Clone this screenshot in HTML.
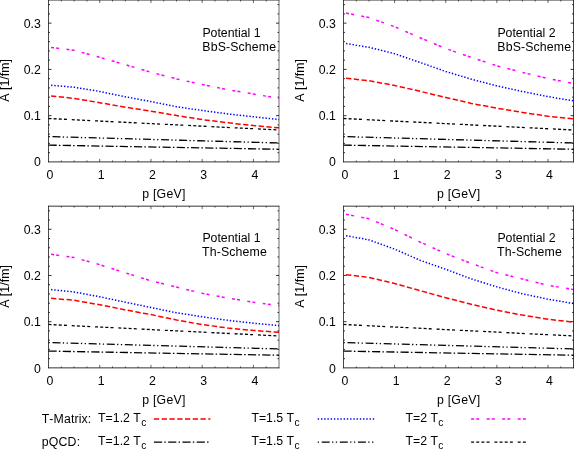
<!DOCTYPE html>
<html><head><meta charset="utf-8"><title>Chart</title>
<style>html,body{margin:0;padding:0;background:#fff;}body{width:574px;height:449px;overflow:hidden;font-family:"Liberation Sans",sans-serif;}</style>
</head><body>
<svg width="574" height="449" viewBox="0 0 574 449" style="display:block;will-change:transform">
<rect width="574" height="449" fill="#fff"/>
<g font-family="Liberation Sans, sans-serif" font-size="12.3" fill="#000" style="font-kerning:none">
<polyline points="51.06,47.40 74.11,50.30 99.72,57.30 125.33,64.70 150.94,72.20 176.56,78.90 202.17,84.50 227.78,89.70 253.39,94.00 279.00,98.30" fill="none" stroke="#ff00ff" stroke-width="1.5" stroke-dasharray="3.0 2.15 3.0 7.4" stroke-linejoin="round"/>
<polyline points="51.06,85.30 74.11,87.20 99.72,91.50 125.33,96.80 150.94,101.60 176.56,106.70 202.17,110.50 227.78,113.90 253.39,116.80 279.00,119.50" fill="none" stroke="#0000ff" stroke-width="1.5" stroke-dasharray="1.4 1.84" stroke-linejoin="round"/>
<polyline points="51.06,96.00 74.11,98.40 99.72,102.70 125.33,107.20 150.94,111.20 176.56,115.50 202.17,119.60 227.78,122.80 253.39,125.60 279.00,127.80" fill="none" stroke="#ff0000" stroke-width="1.5" stroke-dasharray="5.3 2.47" stroke-linejoin="round"/>
<polyline points="48.50,118.50 279.00,130.00" fill="none" stroke="#000" stroke-width="1.3" stroke-dasharray="3.0 2.15 3.0 2.15 3.0 2.15 3.0 4.85" stroke-linejoin="round"/>
<polyline points="48.50,136.60 279.00,143.00" fill="none" stroke="#000" stroke-width="1.3" stroke-dasharray="1.3 2.7 8.0 2.3 1.3 2.5" stroke-linejoin="round"/>
<polyline points="48.50,145.10 279.00,149.30" fill="none" stroke="#000" stroke-width="1.3" stroke-dasharray="8.2 2.2 1.5 2.35" stroke-linejoin="round"/>
<path d="M48.5 -0.37V162.30" stroke="#000" stroke-width="0.72" fill="none"/>
<path d="M279.0 -0.37V162.30" stroke="#000" stroke-width="0.58" fill="none"/>
<path d="M61.31 161.9v-1.5M61.31 0.03v1.5M74.11 161.9v-1.5M74.11 0.03v1.5M86.92 161.9v-1.5M86.92 0.03v1.5M99.72 161.9v-3.0M99.72 0.03v3.0M112.53 161.9v-1.5M112.53 0.03v1.5M125.33 161.9v-1.5M125.33 0.03v1.5M138.14 161.9v-1.5M138.14 0.03v1.5M150.94 161.9v-3.0M150.94 0.03v3.0M163.75 161.9v-1.5M163.75 0.03v1.5M176.56 161.9v-1.5M176.56 0.03v1.5M189.36 161.9v-1.5M189.36 0.03v1.5M202.17 161.9v-3.0M202.17 0.03v3.0M214.97 161.9v-1.5M214.97 0.03v1.5M227.78 161.9v-1.5M227.78 0.03v1.5M240.58 161.9v-1.5M240.58 0.03v1.5M253.39 161.9v-3.0M253.39 0.03v3.0M266.19 161.9v-1.5M266.19 0.03v1.5" stroke="#000" stroke-width="0.6" fill="none"/>
<path d="M48.20 0.03H279.30M48.20 161.9H279.30M48.5 152.65h1.5M279.0 152.65h-1.5M48.5 143.40h1.5M279.0 143.40h-1.5M48.5 134.15h1.5M279.0 134.15h-1.5M48.5 124.90h1.5M279.0 124.90h-1.5M48.5 115.65h3.0M279.0 115.65h-3.0M48.5 106.40h1.5M279.0 106.40h-1.5M48.5 97.15h1.5M279.0 97.15h-1.5M48.5 87.90h1.5M279.0 87.90h-1.5M48.5 78.65h1.5M279.0 78.65h-1.5M48.5 69.40h3.0M279.0 69.40h-3.0M48.5 60.15h1.5M279.0 60.15h-1.5M48.5 50.90h1.5M279.0 50.90h-1.5M48.5 41.65h1.5M279.0 41.65h-1.5M48.5 32.40h1.5M279.0 32.40h-1.5M48.5 23.15h3.0M279.0 23.15h-3.0M48.5 13.90h1.5M279.0 13.90h-1.5M48.5 4.65h1.5M279.0 4.65h-1.5" stroke="#000" stroke-width="0.8" fill="none"/>
<text x="40.90" y="166.30" text-anchor="end">0</text>
<text x="40.90" y="120.05" text-anchor="end">0.1</text>
<text x="40.90" y="73.80" text-anchor="end">0.2</text>
<text x="40.90" y="27.55" text-anchor="end">0.3</text>
<text x="50.00" y="178.60" text-anchor="middle">0</text>
<text x="101.22" y="178.60" text-anchor="middle">1</text>
<text x="152.44" y="178.60" text-anchor="middle">2</text>
<text x="203.67" y="178.60" text-anchor="middle">3</text>
<text x="254.89" y="178.60" text-anchor="middle">4</text>
<text x="163.75" y="198.10" text-anchor="middle" textLength="43.1">p [GeV]</text>
<text transform="translate(9.10,80.42) rotate(-90)" text-anchor="middle" textLength="42.8">A [1/fm]</text>
<text x="202.40" y="36.60">Potential 1</text>
<text x="202.30" y="50.60" textLength="73.78">BbS-Scheme</text>
<polyline points="346.06,13.10 369.06,17.60 394.62,26.70 420.18,37.80 445.74,48.50 471.31,57.50 496.87,65.80 522.43,72.40 547.99,78.50 573.55,83.50" fill="none" stroke="#ff00ff" stroke-width="1.5" stroke-dasharray="3.0 2.15 3.0 7.4" stroke-linejoin="round"/>
<polyline points="346.06,43.60 369.06,47.30 394.62,53.70 420.18,62.50 445.74,71.50 471.31,79.20 496.87,85.90 522.43,91.50 547.99,96.60 573.55,100.90" fill="none" stroke="#0000ff" stroke-width="1.5" stroke-dasharray="1.4 1.84" stroke-linejoin="round"/>
<polyline points="346.06,78.30 369.06,80.70 394.62,85.50 420.18,91.30 445.74,97.50 471.31,103.40 496.87,108.20 522.43,112.40 547.99,116.20 573.55,118.90" fill="none" stroke="#ff0000" stroke-width="1.5" stroke-dasharray="5.3 2.47" stroke-linejoin="round"/>
<polyline points="343.50,118.50 573.55,130.00" fill="none" stroke="#000" stroke-width="1.3" stroke-dasharray="3.0 2.15 3.0 2.15 3.0 2.15 3.0 4.85" stroke-linejoin="round"/>
<polyline points="343.50,136.60 573.55,143.00" fill="none" stroke="#000" stroke-width="1.3" stroke-dasharray="1.3 2.7 8.0 2.3 1.3 2.5" stroke-linejoin="round"/>
<polyline points="343.50,145.10 573.55,149.30" fill="none" stroke="#000" stroke-width="1.3" stroke-dasharray="8.2 2.2 1.5 2.35" stroke-linejoin="round"/>
<path d="M343.5 -0.37V162.30" stroke="#000" stroke-width="0.72" fill="none"/>
<path d="M573.55 -0.37V162.30" stroke="#000" stroke-width="0.8" fill="none"/>
<path d="M356.28 161.9v-1.5M356.28 0.03v1.5M369.06 161.9v-1.5M369.06 0.03v1.5M381.84 161.9v-1.5M381.84 0.03v1.5M394.62 161.9v-3.0M394.62 0.03v3.0M407.40 161.9v-1.5M407.40 0.03v1.5M420.18 161.9v-1.5M420.18 0.03v1.5M432.96 161.9v-1.5M432.96 0.03v1.5M445.74 161.9v-3.0M445.74 0.03v3.0M458.52 161.9v-1.5M458.52 0.03v1.5M471.31 161.9v-1.5M471.31 0.03v1.5M484.09 161.9v-1.5M484.09 0.03v1.5M496.87 161.9v-3.0M496.87 0.03v3.0M509.65 161.9v-1.5M509.65 0.03v1.5M522.43 161.9v-1.5M522.43 0.03v1.5M535.21 161.9v-1.5M535.21 0.03v1.5M547.99 161.9v-3.0M547.99 0.03v3.0M560.77 161.9v-1.5M560.77 0.03v1.5" stroke="#000" stroke-width="0.6" fill="none"/>
<path d="M343.20 0.03H573.85M343.20 161.9H573.85M343.5 152.65h1.5M573.55 152.65h-1.5M343.5 143.40h1.5M573.55 143.40h-1.5M343.5 134.15h1.5M573.55 134.15h-1.5M343.5 124.90h1.5M573.55 124.90h-1.5M343.5 115.65h3.0M573.55 115.65h-3.0M343.5 106.40h1.5M573.55 106.40h-1.5M343.5 97.15h1.5M573.55 97.15h-1.5M343.5 87.90h1.5M573.55 87.90h-1.5M343.5 78.65h1.5M573.55 78.65h-1.5M343.5 69.40h3.0M573.55 69.40h-3.0M343.5 60.15h1.5M573.55 60.15h-1.5M343.5 50.90h1.5M573.55 50.90h-1.5M343.5 41.65h1.5M573.55 41.65h-1.5M343.5 32.40h1.5M573.55 32.40h-1.5M343.5 23.15h3.0M573.55 23.15h-3.0M343.5 13.90h1.5M573.55 13.90h-1.5M343.5 4.65h1.5M573.55 4.65h-1.5" stroke="#000" stroke-width="0.8" fill="none"/>
<text x="335.90" y="166.30" text-anchor="end">0</text>
<text x="335.90" y="120.05" text-anchor="end">0.1</text>
<text x="335.90" y="73.80" text-anchor="end">0.2</text>
<text x="335.90" y="27.55" text-anchor="end">0.3</text>
<text x="345.00" y="178.60" text-anchor="middle">0</text>
<text x="396.12" y="178.60" text-anchor="middle">1</text>
<text x="447.24" y="178.60" text-anchor="middle">2</text>
<text x="498.37" y="178.60" text-anchor="middle">3</text>
<text x="549.49" y="178.60" text-anchor="middle">4</text>
<text x="458.52" y="198.10" text-anchor="middle" textLength="43.1">p [GeV]</text>
<text transform="translate(304.10,80.42) rotate(-90)" text-anchor="middle" textLength="42.8">A [1/fm]</text>
<text x="497.40" y="36.60">Potential 2</text>
<text x="497.30" y="50.60" textLength="73.78">BbS-Scheme</text>
<polyline points="51.06,254.30 74.11,257.50 99.72,264.70 125.33,272.80 150.94,280.80 176.56,287.10 202.17,293.30 227.78,298.10 253.39,302.20 279.00,305.70" fill="none" stroke="#ff00ff" stroke-width="1.5" stroke-dasharray="3.0 2.15 3.0 7.4" stroke-linejoin="round"/>
<polyline points="51.06,289.60 74.11,292.00 99.72,296.80 125.33,302.20 150.94,307.50 176.56,312.80 202.17,316.80 227.78,320.30 253.39,323.20 279.00,325.60" fill="none" stroke="#0000ff" stroke-width="1.5" stroke-dasharray="1.4 1.84" stroke-linejoin="round"/>
<polyline points="51.06,298.20 74.11,300.30 99.72,304.80 125.33,309.90 150.94,314.60 176.56,320.00 202.17,324.60 227.78,328.00 253.39,330.40 279.00,332.30" fill="none" stroke="#ff0000" stroke-width="1.5" stroke-dasharray="5.3 2.47" stroke-linejoin="round"/>
<polyline points="48.50,324.47 279.00,335.97" fill="none" stroke="#000" stroke-width="1.3" stroke-dasharray="3.0 2.15 3.0 2.15 3.0 2.15 3.0 4.85" stroke-linejoin="round"/>
<polyline points="48.50,342.57 279.00,348.97" fill="none" stroke="#000" stroke-width="1.3" stroke-dasharray="1.3 2.7 8.0 2.3 1.3 2.5" stroke-linejoin="round"/>
<polyline points="48.50,351.07 279.00,355.27" fill="none" stroke="#000" stroke-width="1.3" stroke-dasharray="8.2 2.2 1.5 2.35" stroke-linejoin="round"/>
<path d="M48.5 205.77V368.27" stroke="#000" stroke-width="0.72" fill="none"/>
<path d="M279.0 205.77V368.27" stroke="#000" stroke-width="0.58" fill="none"/>
<path d="M61.31 367.87v-1.5M61.31 206.17v1.5M74.11 367.87v-1.5M74.11 206.17v1.5M86.92 367.87v-1.5M86.92 206.17v1.5M99.72 367.87v-3.0M99.72 206.17v3.0M112.53 367.87v-1.5M112.53 206.17v1.5M125.33 367.87v-1.5M125.33 206.17v1.5M138.14 367.87v-1.5M138.14 206.17v1.5M150.94 367.87v-3.0M150.94 206.17v3.0M163.75 367.87v-1.5M163.75 206.17v1.5M176.56 367.87v-1.5M176.56 206.17v1.5M189.36 367.87v-1.5M189.36 206.17v1.5M202.17 367.87v-3.0M202.17 206.17v3.0M214.97 367.87v-1.5M214.97 206.17v1.5M227.78 367.87v-1.5M227.78 206.17v1.5M240.58 367.87v-1.5M240.58 206.17v1.5M253.39 367.87v-3.0M253.39 206.17v3.0M266.19 367.87v-1.5M266.19 206.17v1.5" stroke="#000" stroke-width="0.6" fill="none"/>
<path d="M48.20 206.17H279.30M48.20 367.87H279.30M48.5 358.63h1.5M279.0 358.63h-1.5M48.5 349.39h1.5M279.0 349.39h-1.5M48.5 340.15h1.5M279.0 340.15h-1.5M48.5 330.91h1.5M279.0 330.91h-1.5M48.5 321.67h3.0M279.0 321.67h-3.0M48.5 312.43h1.5M279.0 312.43h-1.5M48.5 303.19h1.5M279.0 303.19h-1.5M48.5 293.95h1.5M279.0 293.95h-1.5M48.5 284.71h1.5M279.0 284.71h-1.5M48.5 275.47h3.0M279.0 275.47h-3.0M48.5 266.23h1.5M279.0 266.23h-1.5M48.5 256.99h1.5M279.0 256.99h-1.5M48.5 247.75h1.5M279.0 247.75h-1.5M48.5 238.51h1.5M279.0 238.51h-1.5M48.5 229.27h3.0M279.0 229.27h-3.0M48.5 220.03h1.5M279.0 220.03h-1.5M48.5 210.79h1.5M279.0 210.79h-1.5" stroke="#000" stroke-width="0.8" fill="none"/>
<text x="40.90" y="372.67" text-anchor="end">0</text>
<text x="40.90" y="326.07" text-anchor="end">0.1</text>
<text x="40.90" y="279.87" text-anchor="end">0.2</text>
<text x="40.90" y="233.67" text-anchor="end">0.3</text>
<text x="50.00" y="385.07" text-anchor="middle">0</text>
<text x="101.22" y="385.07" text-anchor="middle">1</text>
<text x="152.44" y="385.07" text-anchor="middle">2</text>
<text x="203.67" y="385.07" text-anchor="middle">3</text>
<text x="254.89" y="385.07" text-anchor="middle">4</text>
<text x="163.75" y="404.07" text-anchor="middle" textLength="43.1">p [GeV]</text>
<text transform="translate(9.10,286.47) rotate(-90)" text-anchor="middle" textLength="42.8">A [1/fm]</text>
<text x="202.40" y="242.40">Potential 1</text>
<text x="202.00" y="256.40" textLength="64.8">Th-Scheme</text>
<polyline points="346.06,214.30 369.06,218.80 394.62,229.50 420.18,242.10 445.74,253.60 471.31,263.40 496.87,272.70 522.43,279.10 547.99,285.30 573.55,289.60" fill="none" stroke="#ff00ff" stroke-width="1.5" stroke-dasharray="3.0 2.15 3.0 7.4" stroke-linejoin="round"/>
<polyline points="346.06,235.70 369.06,239.90 394.62,249.10 420.18,260.30 445.74,269.30 471.31,278.90 496.87,286.90 522.43,293.80 547.99,299.20 573.55,303.50" fill="none" stroke="#0000ff" stroke-width="1.5" stroke-dasharray="1.4 1.84" stroke-linejoin="round"/>
<polyline points="346.06,274.70 369.06,277.40 394.62,283.50 420.18,290.70 445.74,297.70 471.31,304.30 496.87,310.20 522.43,315.10 547.99,319.30 573.55,322.20" fill="none" stroke="#ff0000" stroke-width="1.5" stroke-dasharray="5.3 2.47" stroke-linejoin="round"/>
<polyline points="343.50,324.47 573.55,335.97" fill="none" stroke="#000" stroke-width="1.3" stroke-dasharray="3.0 2.15 3.0 2.15 3.0 2.15 3.0 4.85" stroke-linejoin="round"/>
<polyline points="343.50,342.57 573.55,348.97" fill="none" stroke="#000" stroke-width="1.3" stroke-dasharray="1.3 2.7 8.0 2.3 1.3 2.5" stroke-linejoin="round"/>
<polyline points="343.50,351.07 573.55,355.27" fill="none" stroke="#000" stroke-width="1.3" stroke-dasharray="8.2 2.2 1.5 2.35" stroke-linejoin="round"/>
<path d="M343.5 205.77V368.27" stroke="#000" stroke-width="0.72" fill="none"/>
<path d="M573.55 205.77V368.27" stroke="#000" stroke-width="0.8" fill="none"/>
<path d="M356.28 367.87v-1.5M356.28 206.17v1.5M369.06 367.87v-1.5M369.06 206.17v1.5M381.84 367.87v-1.5M381.84 206.17v1.5M394.62 367.87v-3.0M394.62 206.17v3.0M407.40 367.87v-1.5M407.40 206.17v1.5M420.18 367.87v-1.5M420.18 206.17v1.5M432.96 367.87v-1.5M432.96 206.17v1.5M445.74 367.87v-3.0M445.74 206.17v3.0M458.52 367.87v-1.5M458.52 206.17v1.5M471.31 367.87v-1.5M471.31 206.17v1.5M484.09 367.87v-1.5M484.09 206.17v1.5M496.87 367.87v-3.0M496.87 206.17v3.0M509.65 367.87v-1.5M509.65 206.17v1.5M522.43 367.87v-1.5M522.43 206.17v1.5M535.21 367.87v-1.5M535.21 206.17v1.5M547.99 367.87v-3.0M547.99 206.17v3.0M560.77 367.87v-1.5M560.77 206.17v1.5" stroke="#000" stroke-width="0.6" fill="none"/>
<path d="M343.20 206.17H573.85M343.20 367.87H573.85M343.5 358.63h1.5M573.55 358.63h-1.5M343.5 349.39h1.5M573.55 349.39h-1.5M343.5 340.15h1.5M573.55 340.15h-1.5M343.5 330.91h1.5M573.55 330.91h-1.5M343.5 321.67h3.0M573.55 321.67h-3.0M343.5 312.43h1.5M573.55 312.43h-1.5M343.5 303.19h1.5M573.55 303.19h-1.5M343.5 293.95h1.5M573.55 293.95h-1.5M343.5 284.71h1.5M573.55 284.71h-1.5M343.5 275.47h3.0M573.55 275.47h-3.0M343.5 266.23h1.5M573.55 266.23h-1.5M343.5 256.99h1.5M573.55 256.99h-1.5M343.5 247.75h1.5M573.55 247.75h-1.5M343.5 238.51h1.5M573.55 238.51h-1.5M343.5 229.27h3.0M573.55 229.27h-3.0M343.5 220.03h1.5M573.55 220.03h-1.5M343.5 210.79h1.5M573.55 210.79h-1.5" stroke="#000" stroke-width="0.8" fill="none"/>
<text x="335.90" y="372.67" text-anchor="end">0</text>
<text x="335.90" y="326.07" text-anchor="end">0.1</text>
<text x="335.90" y="279.87" text-anchor="end">0.2</text>
<text x="335.90" y="233.67" text-anchor="end">0.3</text>
<text x="345.00" y="385.07" text-anchor="middle">0</text>
<text x="396.12" y="385.07" text-anchor="middle">1</text>
<text x="447.24" y="385.07" text-anchor="middle">2</text>
<text x="498.37" y="385.07" text-anchor="middle">3</text>
<text x="549.49" y="385.07" text-anchor="middle">4</text>
<text x="458.52" y="404.07" text-anchor="middle" textLength="43.1">p [GeV]</text>
<text transform="translate(304.10,286.47) rotate(-90)" text-anchor="middle" textLength="42.8">A [1/fm]</text>
<text x="497.40" y="242.40">Potential 2</text>
<text x="497.00" y="256.40" textLength="64.8">Th-Scheme</text>
<text x="41.70" y="423.1" textLength="49.5">T-Matrix:</text>
<text x="41.70" y="446.3" textLength="38.4">pQCD:</text>
<text x="98.1" y="421.8">T=1.2 T<tspan font-size="10.2" dy="4.0" dx="0.4">c</tspan></text>
<text x="251.4" y="421.8">T=1.5 T<tspan font-size="10.2" dy="4.0" dx="0.4">c</tspan></text>
<text x="405.5" y="421.8">T=2 T<tspan font-size="10.2" dy="4.0" dx="0.4">c</tspan></text>
<text x="98.1" y="444.7">T=1.2 T<tspan font-size="10.2" dy="4.0" dx="0.4">c</tspan></text>
<text x="251.4" y="444.7">T=1.5 T<tspan font-size="10.2" dy="4.0" dx="0.4">c</tspan></text>
<text x="405.5" y="444.7">T=2 T<tspan font-size="10.2" dy="4.0" dx="0.4">c</tspan></text>
<path d="M153.9 418.9H210.4" stroke="#ff0000" stroke-width="1.5" stroke-dasharray="5.3 2.47" fill="none"/>
<path d="M317.7 418.9H374.2" stroke="#0000ff" stroke-width="1.5" stroke-dasharray="1.4 1.84" fill="none"/>
<path d="M471.1 418.9H526.0" stroke="#ff00ff" stroke-width="1.5" stroke-dasharray="3.0 2.15 3.0 7.4" fill="none"/>
<path d="M153.9 442.1H208.6" stroke="#000" stroke-width="1.3" stroke-dasharray="8.2 2.2 1.5 2.35" fill="none"/>
<path d="M317.7 442.1H374.2" stroke="#000" stroke-width="1.3" stroke-dasharray="1.3 2.7 8.0 2.3 1.3 2.5" fill="none"/>
<path d="M471.1 442.1H526.0" stroke="#000" stroke-width="1.3" stroke-dasharray="3.0 2.15 3.0 2.15 3.0 2.15 3.0 4.85" fill="none"/>
</g></svg>
</body></html>
